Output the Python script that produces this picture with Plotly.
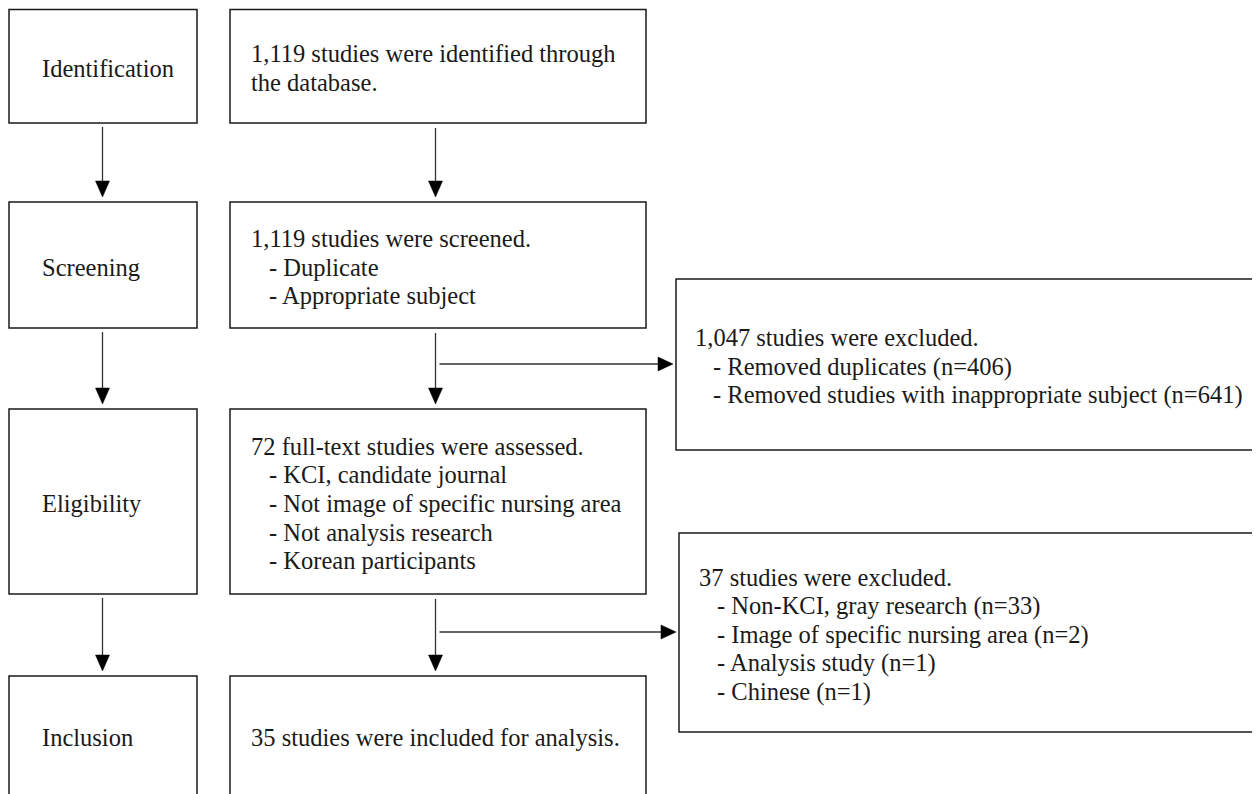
import plotly.graph_objects as go

# ---- content ----
stage_labels = ["Identification", "Screening", "Eligibility", "Inclusion"]
main_texts = [
    ["1,119 studies were identified through", "the database."],
    ["1,119 studies were screened.", "- Duplicate", "- Appropriate subject"],
    ["72 full-text studies were assessed.", "- KCI, candidate journal",
     "- Not image of specific nursing area", "- Not analysis research",
     "- Korean participants"],
    ["35 studies were included for analysis."],
]
excluded_texts = [
    ["1,047 studies were excluded.", "- Removed duplicates (n=406)",
     "- Removed studies with inappropriate subject (n=641)"],
    ["37 studies were excluded.", "- Non-KCI, gray research (n=33)",
     "- Image of specific nursing area (n=2)", "- Analysis study (n=1)",
     "- Chinese (n=1)"],
]

# ---- layout geometry (page pixels) ----
W, H = 1260, 794
PAGE_MARGIN = 8  # default body margin of the html page
left_box_x = (9, 197)
main_box_x = (230, 646)
row_y = [(9.5, 123), (202, 328), (409, 594), (676, 800)]
excl_boxes = [(676, 1256, 279, 450), (679, 1257, 533, 732)]
excl_arrow_y = [364, 632]
excl_text_x = [693, 697]
left_arrow_x = 102.5
main_arrow_x = 435.5
label_x = 40
main_text_x = 249
indent = 18
line_gap = 28.7
FONT = dict(family="Liberation Serif, Times New Roman, serif", size=24.5, color="#1a1a1a")
LINE = dict(color="#1a1a1a", width=1.5)
ARROW_LINE = dict(color="#333", width=1.3)

fig = go.Figure()
shapes = []
annotations = []


def rect(x0, x1, y0, y1):
    shapes.append(dict(type="rect", xref="x", yref="y", x0=x0, x1=x1, y0=y0, y1=y1,
                       line=LINE, fillcolor="rgba(0,0,0,0)"))


def down_arrow(x, y0, y1):
    shapes.append(dict(type="line", xref="x", yref="y", x0=x, x1=x, y0=y0, y1=y1 - 12,
                       line=ARROW_LINE))
    shapes.append(dict(type="path", xref="x", yref="y",
                       path=f"M {x-7} {y1-16} L {x+7} {y1-16} L {x} {y1} Z",
                       fillcolor="black", line=dict(color="black", width=0.5)))


def right_arrow(x0, x1, y):
    shapes.append(dict(type="line", xref="x", yref="y", x0=x0, x1=x1 - 12, y0=y, y1=y,
                       line=ARROW_LINE))
    shapes.append(dict(type="path", xref="x", yref="y",
                       path=f"M {x1-15} {y-7} L {x1-15} {y+7} L {x1} {y} Z",
                       fillcolor="black", line=dict(color="black", width=0.5)))


def text_block(lines, x, yc):
    n = len(lines)
    for i, t in enumerate(lines):
        y = yc + (i - (n - 1) / 2) * line_gap
        xx = x + indent if t.startswith("- ") else x
        annotations.append(dict(x=xx, y=y, xref="x", yref="y", text=t, showarrow=False,
                                xanchor="left", yanchor="middle", font=FONT))


for i, (y0, y1) in enumerate(row_y):
    rect(*left_box_x, y0, y1)
    rect(*main_box_x, y0, y1)
    vis_c = (y0 + min(y1, H)) / 2 + 2
    annotations.append(dict(x=label_x, y=vis_c, xref="x", yref="y", text=stage_labels[i],
                            showarrow=False, xanchor="left", yanchor="middle", font=FONT))
    text_block(main_texts[i], main_text_x, vis_c)
    if i < len(row_y) - 1:
        nxt = row_y[i + 1][0]
        down_arrow(left_arrow_x, y1 + 4, nxt - 5)
        down_arrow(main_arrow_x, y1 + 5, nxt - 5)

for k, (x0, x1, y0, y1) in enumerate(excl_boxes):
    rect(x0, x1, y0, y1)
    text_block(excluded_texts[k], excl_text_x[k], (y0 + y1) / 2 + 2)
    right_arrow(main_arrow_x + 4, x0 - 3, excl_arrow_y[k])

fig.update_layout(
    width=W - PAGE_MARGIN, height=H - PAGE_MARGIN, margin=dict(l=0, r=0, t=0, b=0),
    paper_bgcolor="white", plot_bgcolor="white",
    xaxis=dict(range=[PAGE_MARGIN, W], visible=False, fixedrange=True),
    yaxis=dict(range=[H, PAGE_MARGIN], visible=False, fixedrange=True),
    shapes=shapes, annotations=annotations, showlegend=False,
)
fig.write_html("out.html")
